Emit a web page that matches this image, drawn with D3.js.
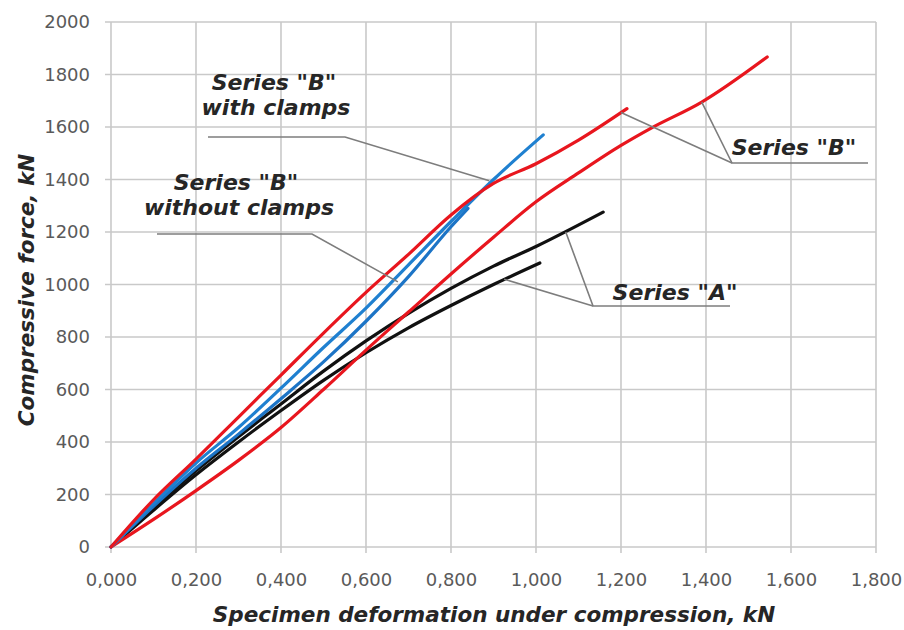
<!DOCTYPE html>
<html>
<head>
<meta charset="utf-8">
<script src="https://cdn.jsdelivr.net/npm/d3@7"></script>
<style>
  body { margin: 0; background: #fff; }
  svg { display: block; }
</style>
</head>
<body>
<svg id="chart" width="904" height="630"></svg>
<script>
// x = deformation, y = force (kN)
var redUpperX = [0, 0.1, 0.2, 0.3, 0.4, 0.5, 0.6, 0.7, 0.8, 0.9, 1.0, 1.1, 1.214];
var redUpperY = [0, 180, 335, 495, 655, 815, 970, 1115, 1265, 1385, 1460, 1550, 1670];

var redLowerX = [0, 0.1, 0.2, 0.3, 0.4, 0.5, 0.6, 0.7, 0.8, 0.9, 1.0, 1.1, 1.2, 1.27, 1.39, 1.544];
var redLowerY = [0, 105, 215, 330, 455, 600, 750, 895, 1040, 1180, 1315, 1425, 1530, 1595, 1695, 1867];

var blackUpperX = [0, 0.1, 0.2, 0.3, 0.4, 0.5, 0.6, 0.7, 0.8, 0.9, 1.0, 1.158];
var blackUpperY = [0, 150, 290, 420, 545, 670, 785, 890, 985, 1070, 1145, 1276];

var blackLowerX = [0, 0.1, 0.2, 0.3, 0.4, 0.5, 0.6, 0.7, 0.8, 0.9, 1.009];
var blackLowerY = [0, 140, 275, 400, 520, 635, 740, 835, 920, 1000, 1082];

var blueClampX = [0, 0.1, 0.2, 0.3, 0.4, 0.5, 0.6, 0.7, 0.8, 0.9, 1.017];
var blueClampY = [0, 165, 320, 455, 605, 760, 910, 1075, 1240, 1400, 1570];

var blueNoClampX = [0, 0.1, 0.2, 0.3, 0.4, 0.5, 0.6, 0.7, 0.8, 0.84];
var blueNoClampY = [0, 155, 300, 430, 565, 705, 860, 1030, 1220, 1290];

var xTicks = [0, 0.2, 0.4, 0.6, 0.8, 1.0, 1.2, 1.4, 1.6, 1.8];
var yTicks = [0, 200, 400, 600, 800, 1000, 1200, 1400, 1600, 1800, 2000];

var margin = {left: 111, right: 28, top: 22, bottom: 83};
var width = 904, height = 630;

var svg = d3.select('#chart');

var xScale = d3.scaleLinear().domain([0, 1.8]).range([margin.left, width - margin.right]);
var yScale = d3.scaleLinear().domain([0, 2000]).range([height - margin.bottom, margin.top]);

// grid
var grid = svg.append('g').attr('stroke', '#c9c9c9').attr('stroke-width', 1.6);
grid.selectAll('line.v').data(xTicks).enter().append('line')
  .attr('x1', (d) => xScale(d)).attr('x2', (d) => xScale(d))
  .attr('y1', yScale(0) + 6).attr('y2', yScale(2000));
grid.selectAll('line.h').data(yTicks).enter().append('line')
  .attr('x1', xScale(0) - 6).attr('x2', xScale(1.8))
  .attr('y1', (d) => yScale(d)).attr('y2', (d) => yScale(d));

// axes (labels only, Excel style)
var fmtX = (d) => d3.format('.3f')(d).replace('.', ',');
var xAxis = svg.append('g')
  .attr('transform', 'translate(0,' + yScale(0) + ')')
  .call(d3.axisBottom(xScale).tickValues(xTicks).tickFormat(fmtX).tickSize(0).tickPadding(26));
var yAxis = svg.append('g')
  .attr('transform', 'translate(' + (xScale(0) - 21) + ',0)')
  .call(d3.axisLeft(yScale).tickValues(yTicks).tickFormat(d3.format('d')).tickSize(0).tickPadding(0));
[xAxis, yAxis].forEach(function(ax) {
  ax.select('.domain').remove();
  ax.selectAll('text')
    .attr('fill', '#5a5a5a')
    .style('font-family', 'DejaVu Sans')
    .style('font-size', '18px');
});

// curves
var line = d3.line().curve(d3.curveMonotoneX)
  .x((d) => xScale(d[0])).y((d) => yScale(d[1]));
var curves = [
  {x: blackLowerX, y: blackLowerY, color: '#111111'},
  {x: blackUpperX, y: blackUpperY, color: '#111111'},
  {x: redLowerX, y: redLowerY, color: '#e8161e'},
  {x: blueNoClampX, y: blueNoClampY, color: '#1c74c6'},
  {x: blueClampX, y: blueClampY, color: '#1f80d0'},
  {x: redUpperX, y: redUpperY, color: '#e8161e'}
];
svg.append('g').selectAll('path').data(curves).enter().append('path')
  .attr('d', (c) => line(c.x.map((v, i) => [v, c.y[i]])))
  .attr('fill', 'none')
  .attr('stroke', (c) => c.color)
  .attr('stroke-width', 3.2)
  .attr('stroke-linecap', 'round');

// callouts: leader lines to points on the curves
var leaders = [
  [[208, 137], [345, 137], [xScale(0.89), yScale(1395)]],
  [[157, 234], [312, 234], [xScale(0.675), yScale(1010)]],
  [[868, 163], [732, 163], [xScale(1.39), yScale(1695)]],
  [[732, 163], [xScale(1.2), yScale(1655)]],
  [[730, 306], [593, 306], [xScale(1.07), yScale(1200)]],
  [[593, 306], [xScale(0.925), yScale(1020)]]
];
svg.append('g').selectAll('path').data(leaders).enter().append('path')
  .attr('d', (d) => d3.line()(d))
  .attr('fill', 'none')
  .attr('stroke', '#7d7d7d')
  .attr('stroke-width', 1.6);

var labels = [
  {x: 274, y: 90, t: 'Series "B"'},
  {x: 276, y: 115, t: 'with clamps'},
  {x: 236, y: 190, t: 'Series "B"'},
  {x: 239, y: 215, t: 'without clamps'},
  {x: 794, y: 155, t: 'Series "B"'},
  {x: 675, y: 300, t: 'Series "A"'}
];
svg.append('g').selectAll('text').data(labels).enter().append('text')
  .attr('x', (d) => d.x).attr('y', (d) => d.y)
  .attr('text-anchor', 'middle')
  .attr('fill', '#262626')
  .style('font-family', 'DejaVu Sans')
  .style('font-weight', 'bold')
  .style('font-style', 'italic')
  .style('font-size', '22px')
  .text((d) => d.t);

// axis titles
svg.append('text')
  .attr('x', 494).attr('y', 622)
  .attr('text-anchor', 'middle')
  .attr('fill', '#262626')
  .style('font-family', 'DejaVu Sans').style('font-weight', 'bold').style('font-style', 'italic')
  .style('font-size', '21.5px')
  .text('Specimen deformation under compression, kN');
svg.append('text')
  .attr('transform', 'translate(34,290) rotate(-90)')
  .attr('text-anchor', 'middle')
  .attr('fill', '#262626')
  .style('font-family', 'DejaVu Sans').style('font-weight', 'bold').style('font-style', 'italic')
  .style('font-size', '21.5px')
  .text('Compressive force, kN');
</script>
</body>
</html>
